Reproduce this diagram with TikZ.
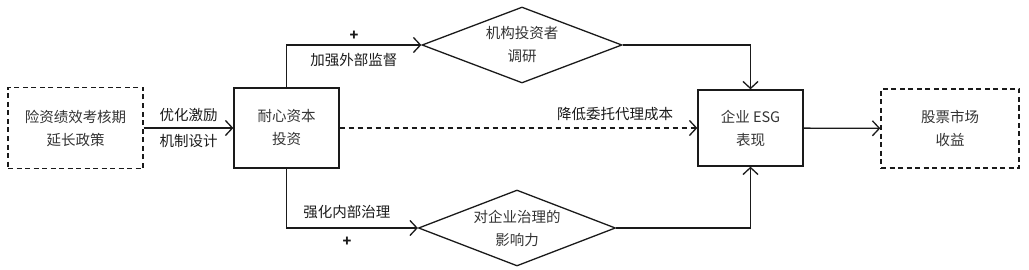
\documentclass[tikz,border=0pt]{standalone}
\usepackage{fontspec}
\setmainfont{Noto Sans CJK SC}
\usepackage{tikz}
\usetikzlibrary{arrows.meta, positioning, shapes.geometric, calc}
\definecolor{inkline}{HTML}{1A1A1A}
\definecolor{inktext}{HTML}{333333}

\begin{document}
\begin{tikzpicture}[
  x=1pt, y=-1pt,
  every node/.style={font=\fontsize{14.5}{23}\selectfont\color{inktext}},
  outerbox/.style={rectangle, draw=inkline, line width=1.4pt,
                   dash pattern=on 5pt off 3.5pt, align=center, inner sep=0pt},
  mainbox/.style={rectangle, draw=inkline, line width=1.3pt,
                  align=center, inner sep=0pt},
  pathbox/.style={diamond, shape aspect=2.8, draw=inkline, line width=1.3pt,
                  align=center, inner sep=0pt},
  arrow/.style={-{Straight Barb[length=7pt, width=15pt]}, line width=1.3pt,
                color=inkline},
  tag/.style={font=\fontsize{14.5}{18}\selectfont\color{inktext}}
]
  \useasboundingbox (0,0) rectangle (1029,270);

  \node[outerbox, minimum width=135pt, minimum height=81pt] (policy) at (75.5,128)
    {险资绩效考核期\\延长政策};
  \node[mainbox, minimum width=105pt, minimum height=80pt] (patient) at (286.5,128)
    {耐心资本\\投资};
  \node[pathbox, minimum width=200pt, minimum height=76pt] (survey) at (522,45)
    {机构投资者\\调研};
  \node[pathbox, minimum width=197pt, minimum height=76pt] (govern) at (517,228)
    {对企业治理的\\影响力};
  \node[mainbox, minimum width=105pt, minimum height=76pt] (esg) at (750.5,128)
    {企业 ESG\\表现};
  \node[outerbox, minimum width=138pt, minimum height=79pt] (market) at (950,128.5)
    {股票市场\\收益};

  \draw[arrow] (policy) -- node[tag, above=2pt] {优化激励}
                            node[tag, below=2pt] {机制设计} (patient);
  \draw[arrow] (patient.north) |- node[tag, pos=0.75, above=1pt] {\textbf{+}}
                                  node[tag, pos=0.75, below=4pt] {加强外部监督} (survey.west);
  \draw[arrow] (patient.south) |- node[tag, pos=0.73, above=5pt] {强化内部治理}
                                  node[tag, pos=0.73, below=5pt] {\textbf{+}} (govern.west);
  \draw[arrow, dash pattern=on 5pt off 4pt] (patient) --
    node[tag, pos=0.77, above=3pt] {降低委托代理成本} (esg);
  \draw[arrow] (survey.east) -| (esg.north);
  \draw[arrow] (govern.east) -| (esg.south);
  \draw[arrow] (esg) -- (market);
\end{tikzpicture}
\end{document}
